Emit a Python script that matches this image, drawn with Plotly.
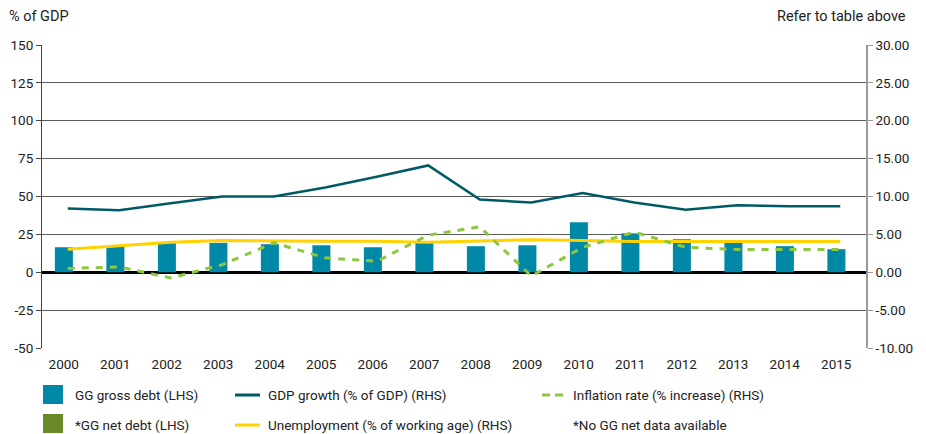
import plotly.graph_objects as go

years = [str(y) for y in range(2000, 2016)]
gg_gross_debt = [16.5, 17.2, 19.4, 19.4, 18.5, 17.8, 16.5, 19.4, 17.2, 17.8, 33.0, 25.7, 21.8, 19.6, 17.2, 15.2]
gdp_growth = [8.4, 8.2, 9.1, 10.0, 10.0, 11.2, 12.6, 14.1, 9.6, 9.2, 10.45, 9.2, 8.25, 8.85, 8.7, 8.7]
unemployment = [3.05, 3.5, 3.95, 4.2, 4.1, 4.1, 4.1, 3.95, 4.12, 4.3, 4.2, 4.05, 4.05, 4.05, 4.05, 4.05]
inflation = [0.5, 0.7, -0.75, 1.0, 3.9, 1.9, 1.45, 4.9, 6.0, -0.5, 3.3, 5.3, 3.3, 3.0, 3.0, 3.0]

lhs_ticks = list(range(-50, 151, 25))
rhs_ticks = list(range(-10, 31, 5))

FONT = "Roboto, Liberation Sans Narrow, sans-serif"
C_BAR = "#0088A6"
C_NET = "#6A8A2A"
C_GDP = "#005A66"
C_UNEMP = "#FFD200"
C_INFL = "#8DC63F"
C_TXT = "#222"

def f(size=13.5):
    return dict(family=FONT, size=size, color=C_TXT)

fig = go.Figure()
fig.add_trace(go.Bar(x=years, y=gg_gross_debt, name="GG gross debt (LHS)",
                     marker=dict(color=C_BAR, line=dict(width=0)), width=0.35, offset=-0.25,
                     yaxis="y"))
fig.add_trace(go.Scatter(x=years, y=unemployment, name="Unemployment (% of working age) (RHS)",
                         mode="lines", line=dict(color=C_UNEMP, width=3), yaxis="y2"))
fig.add_trace(go.Scatter(x=years, y=inflation, name="Inflation rate (% increase) (RHS)",
                         mode="lines", line=dict(color=C_INFL, width=3, dash="7px,7px"), yaxis="y2"))
fig.add_trace(go.Scatter(x=years, y=gdp_growth, name="GDP growth (% of GDP) (RHS)",
                         mode="lines", line=dict(color=C_GDP, width=2.5), yaxis="y2"))

W, H = 926, 434
L, R, T, B = 42, 866, 45, 348

def px(x):
    return (x - L) / (R - L)

def py(y):
    return (B - y) / (B - T)

shapes = []
annotations = []
shapes.append(dict(type="rect", xref="paper", yref="paper", x0=px(43), x1=px(63), y0=py(404), y1=py(385),
                   fillcolor=C_BAR, line=dict(width=0)))
shapes.append(dict(type="rect", xref="paper", yref="paper", x0=px(43), x1=px(63), y0=py(433), y1=py(414),
                   fillcolor=C_NET, line=dict(width=0)))
shapes.append(dict(type="line", xref="paper", yref="paper", x0=px(235), x1=px(260), y0=py(395), y1=py(395),
                   line=dict(color=C_GDP, width=3)))
shapes.append(dict(type="line", xref="paper", yref="paper", x0=px(235), x1=px(260), y0=py(425), y1=py(425),
                   line=dict(color=C_UNEMP, width=3)))
shapes.append(dict(type="line", xref="paper", yref="paper", x0=px(542), x1=px(550), y0=py(395), y1=py(395),
                   line=dict(color=C_INFL, width=3)))
shapes.append(dict(type="line", xref="paper", yref="paper", x0=px(555), x1=px(563), y0=py(395), y1=py(395),
                   line=dict(color=C_INFL, width=3)))

legend_texts = [
    ("GG gross debt (LHS)", 76, 395),
    ("*GG net debt (LHS)", 76, 425),
    ("GDP growth (% of GDP) (RHS)", 269, 395),
    ("Unemployment (% of working age) (RHS)", 269, 425),
    ("Inflation rate (% increase) (RHS)", 574, 395),
    ("*No GG net data available", 574, 425),
]
for txt, x, y in legend_texts:
    annotations.append(dict(text=txt, xref="paper", yref="paper", x=px(x), y=py(y),
                            xanchor="left", yanchor="middle", showarrow=False, xshift=-3,
                            font=f(13.5)))

annotations.append(dict(text="% of GDP", xref="paper", yref="paper", x=px(10), y=py(17),
                        xanchor="left", yanchor="middle", showarrow=False, xshift=-3,
                        font=f(14.5)))
annotations.append(dict(text="Refer to table above", xref="paper", yref="paper", x=px(906), y=py(17),
                        xanchor="right", yanchor="middle", showarrow=False, xshift=2,
                        font=f(14.5)))

fig.update_layout(
    width=W, height=H,
    margin=dict(l=L, r=W - R, t=T, b=H - B, pad=0),
    paper_bgcolor="white", plot_bgcolor="white",
    showlegend=False,
    font=f(),
    xaxis=dict(type="category", showgrid=False, showline=False, ticks="",
               ticklabelstandoff=6, ticklabelshift=-4, tickfont=f()),
    yaxis=dict(range=[-50, 150], tickvals=lhs_ticks, ticktext=[str(v) for v in lhs_ticks],
               showgrid=True, gridcolor="#5a5a5a", gridwidth=1,
               zeroline=True, zerolinecolor="#000", zerolinewidth=2.5,
               showline=True, linecolor="#444", linewidth=1,
               ticks="outside", ticklen=5, tickcolor="#444", tickfont=f()),
    yaxis2=dict(range=[-10, 30], tickvals=rhs_ticks, ticktext=["%.2f" % v for v in rhs_ticks],
                overlaying="y", side="right", showgrid=False, zeroline=False,
                showline=True, linecolor="#999", linewidth=1.5,
                ticks="outside", ticklen=5, tickcolor="#999", tickfont=f()),
    shapes=shapes,
    annotations=annotations,
)

fig.write_html("out.html", config={"displayModeBar": False},
               post_script="document.body.style.margin='0';document.body.style.padding='0';")
